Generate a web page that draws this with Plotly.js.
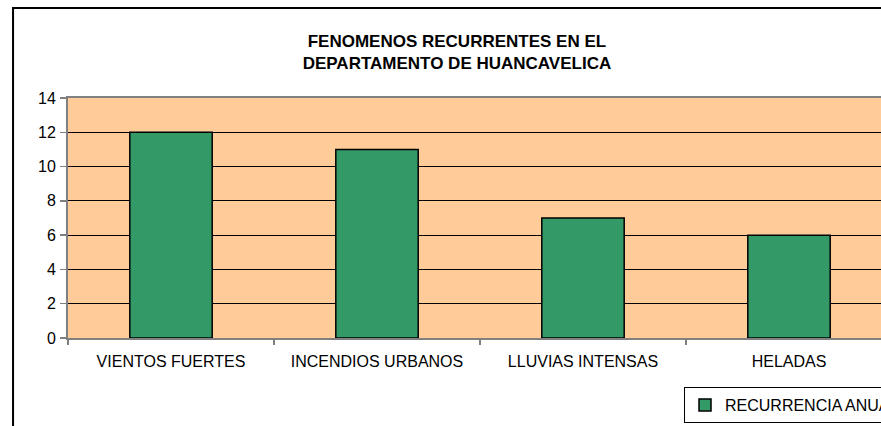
<!DOCTYPE html>
<html>
<head>
<meta charset="utf-8">
<script src="https://cdn.plot.ly/plotly-3.0.1.min.js"></script>
<style>
  html, body { margin: 0; padding: 0; overflow: hidden; background: #ffffff; }
  #chart { width: 912px; height: 426px; }
</style>
</head>
<body>
<div id="chart"></div>
<script>
const categories = ["VIENTOS FUERTES", "INCENDIOS URBANOS", "LLUVIAS INTENSAS", "HELADAS"];
const recurrencia = [12, 11, 7, 6];
const seriesName = "RECURRENCIA ANUAL";
const chartTitle = "<b>FENOMENOS RECURRENTES EN EL<br>DEPARTAMENTO DE HUANCAVELICA</b>";
const yTicks = [0, 2, 4, 6, 8, 10, 12, 14];

const font = "Liberation Sans, Arial, sans-serif";

const trace = {
  type: "bar",
  x: categories,
  y: recurrencia,
  name: seriesName,
  showlegend: true,
  marker: { color: "#339966", line: { color: "#000000", width: 1.5 } },
  hoverinfo: "x+y"
};

const layout = {
  width: 912,
  height: 426,
  margin: { l: 68, r: 20, t: 98, b: 88, pad: 0, autoexpand: false },
  paper_bgcolor: "#ffffff",
  plot_bgcolor: "#FFCC99",
  font: { family: font, size: 16, color: "#000000" },
  title: {
    text: chartTitle,
    font: { family: font, size: 17, color: "#000000" },
    x: 0.472, xanchor: "center", xref: "paper",
    y: 1 - 47 / 426, yanchor: "middle", yref: "container"
  },
  bargap: 0.6,
  xaxis: {
    type: "category",
    tickson: "boundaries",
    ticks: "outside",
    ticklen: 5,
    tickcolor: "#808080",
    tickwidth: 1.5,
    showline: true,
    linecolor: "#808080",
    linewidth: 2,
    mirror: true,
    showgrid: false,
    ticklabelstandoff: 8,
    tickfont: { family: font, size: 16, color: "#000000" }
  },
  yaxis: {
    range: [0, 14],
    tickvals: yTicks,
    ticks: "outside",
    ticklen: 6,
    tickcolor: "#808080",
    tickwidth: 1.5,
    showline: true,
    linecolor: "#808080",
    linewidth: 2,
    mirror: false,
    showgrid: true,
    gridcolor: "#000000",
    gridwidth: 1,
    zeroline: false,
    ticklabelstandoff: 1,
    tickfont: { family: font, size: 16, color: "#000000" }
  },
  showlegend: true,
  legend: {
    x: 684 / 912, xanchor: "left", xref: "container",
    y: 1 - 387 / 426, yanchor: "top", yref: "container",
    bgcolor: "#ffffff",
    bordercolor: "#000000",
    borderwidth: 1,
    itemwidth: 30,
    font: { family: font, size: 16, color: "#000000" }
  },
  shapes: [{
    type: "rect",
    xref: "paper", yref: "paper",
    x0: -0.0667, x1: 1.02,
    y0: -0.5, y1: 1.375,
    line: { color: "#000000", width: 2 },
    fillcolor: "rgba(0,0,0,0)",
    layer: "above"
  }]
};

Plotly.newPlot("chart", [trace], layout, { displayModeBar: false, staticPlot: true });
</script>
</body>
</html>
